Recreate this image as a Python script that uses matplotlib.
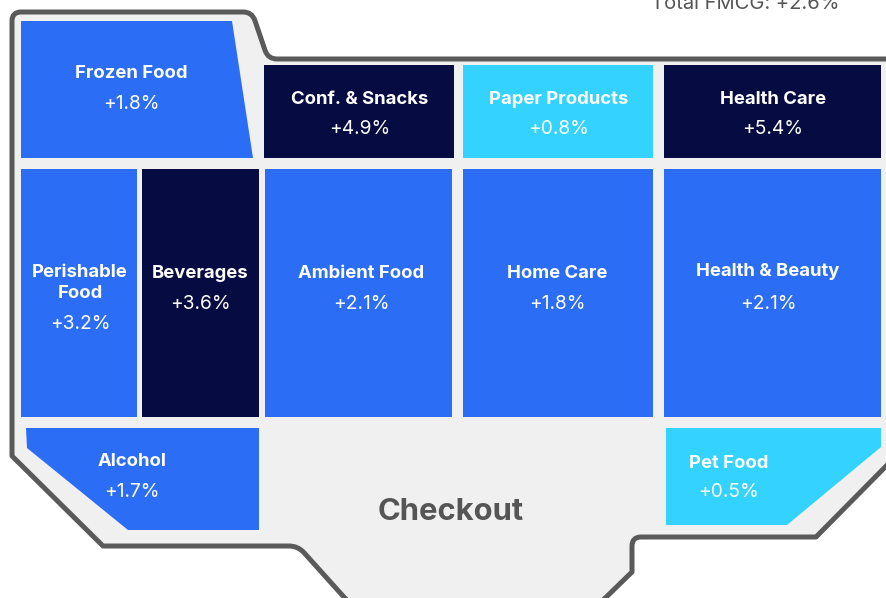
import matplotlib
matplotlib.use("Agg")
import matplotlib.pyplot as plt
from matplotlib.patches import Polygon, PathPatch
from matplotlib.path import Path
import numpy as np

plt.rcParams['font.family'] = ['Inter', 'DejaVu Sans']

# ---- data ----
categories = ["Frozen Food", "Conf. & Snacks", "Paper Products", "Health Care",
              "Perishable\nFood", "Beverages", "Ambient Food", "Home Care",
              "Health & Beauty", "Alcohol", "Pet Food"]
growth = [1.8, 4.9, 0.8, 5.4, 3.2, 3.6, 2.1, 1.8, 2.1, 1.7, 0.5]
tiers = ["mid", "high", "low", "high", "mid", "high", "mid", "mid", "mid", "mid", "low"]
total_label = "Total FMCG"
total_growth = 2.6

# ---- styles ----
tier_colors = {"high": "#060b41", "mid": "#2c6df5", "low": "#33d2ff"}
FLOOR = "#f0f0f0"
WALL = "#5a5a5a"
TEXT_GRAY = "#555555"

# ---- layout (pixel coordinates of the floor plan, y down) ----
shapes = [
    [(21, 21), (232, 21), (253, 158), (21, 158)],
    [(264, 65), (454, 65), (454, 158), (264, 158)],
    [(463, 65), (653, 65), (653, 158), (463, 158)],
    [(664, 65), (881, 65), (881, 158), (664, 158)],
    [(21, 169), (137, 169), (137, 417), (21, 417)],
    [(142, 169), (259, 169), (259, 417), (142, 417)],
    [(265, 169), (452, 169), (452, 417), (265, 417)],
    [(463, 169), (653, 169), (653, 417), (463, 417)],
    [(664, 169), (881, 169), (881, 417), (664, 417)],
    [(26, 428), (259, 428), (259, 530), (128, 530), (27, 448)],
    [(666, 428), (881, 428), (881, 447), (787, 525), (666, 525)],
]
label_pos = [(131, 74, 104), (360, 99, 129), (559, 99, 129), (773, 99, 129),
             (80, 283, 324), (200, 273, 304), (361, 273, 304), (557, 273, 304),
             (768, 271, 304), (132, 462, 492), (729, 464, 492)]

W, H = 887, 598
fig = plt.figure(figsize=(W / 100, H / 100), dpi=100)
ax = fig.add_axes([0, 0, 1, 1])
ax.set_xlim(0, W)
ax.set_ylim(H, 0)
ax.axis("off")


def rounded_path(pts, radius, rounded):
    verts, codes = [], []
    n = len(pts)
    for i, p in enumerate(pts):
        p = np.array(p, float)
        if rounded[i]:
            a = np.array(pts[i - 1], float)
            b = np.array(pts[(i + 1) % n], float)
            d1 = (a - p) / np.linalg.norm(a - p)
            d2 = (b - p) / np.linalg.norm(b - p)
            s, e = p + d1 * radius, p + d2 * radius
            verts += [tuple(s), tuple(p), tuple(e)]
            codes += [Path.LINETO, Path.CURVE3, Path.CURVE3]
        else:
            verts.append(tuple(p))
            codes.append(Path.LINETO)
    codes[0] = Path.MOVETO
    verts.append(verts[0])
    codes.append(Path.CLOSEPOLY)
    return Path(verts, codes)


outline = [(12, 12), (252, 12), (268, 59), (905, 59), (905, 447), (816, 537),
           (632, 537), (632, 572), (597, 606), (352, 606), (298, 546),
           (103, 546), (12, 456)]
rnd = [True, True, True, False, False, False, True, False, False, False,
       True, False, False]
ax.add_patch(PathPatch(rounded_path(outline, 9, rnd), facecolor=FLOOR,
                       edgecolor=WALL, lw=3.6, joinstyle="round", zorder=1))

for cat, g, t, shp, (x, yl, yv) in zip(categories, growth, tiers, shapes, label_pos):
    ax.add_patch(Polygon(shp, closed=True, facecolor=tier_colors[t],
                         edgecolor="none", zorder=2))
    ax.text(x, yl, cat, ha="center", va="center", color="white",
            fontsize=13.3, fontweight="bold", linespacing=1.3, zorder=3)
    ax.text(x, yv, f"+{g:.1f}%", ha="center", va="center", color="white",
            fontsize=13.8, zorder=3)

ax.text(451, 512, "Checkout", ha="center", va="center", color=TEXT_GRAY,
        fontsize=22.3, fontweight="bold", zorder=3)
ax.text(745, 9, f"{total_label}: +{total_growth:.1f}%", ha="center",
        va="baseline", color=TEXT_GRAY, fontsize=14.5, zorder=3)

fig.savefig("out.png", dpi=100)
